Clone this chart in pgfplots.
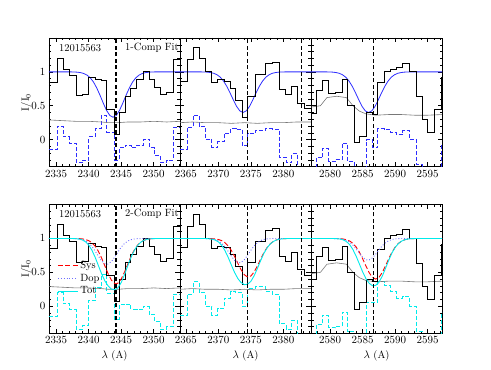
\documentclass[border=0pt]{standalone}
\usepackage{pgfplots}
\pgfplotsset{compat=1.18}
\definecolor{fitblue}{RGB}{45,45,255}
\definecolor{dopblue}{RGB}{110,110,255}
\definecolor{totcyan}{RGB}{0,235,235}
\definecolor{errgray}{RGB}{120,120,120}
\newcommand{\lab}{\fontsize{10.5}{12}\selectfont}

\pgfplotsset{
  panel/.style={
    scale only axis, width=131pt, height=128.7pt,
    anchor=south west,
    ymin=-0.4, ymax=1.5,
    ytick={0,0.5,1},
    minor ytick={-0.3,-0.2,-0.1,0.1,0.2,0.3,0.4,0.6,0.7,0.8,0.9,1.1,1.2,1.3,1.4},
    /pgf/number format/1000 sep={},
    tick label style={font=\lab},
    label style={font=\lab},
    ylabel style={yshift=-7pt},
    major tick length=4.5pt, minor tick length=2.5pt,
    every tick/.style={black, line width=0.5pt},
    axis line style={line width=0.7pt},
  },
  err/.style={color=errgray, line width=0.6pt, forget plot},
  residb/.style={const plot, color=fitblue, dash pattern=on 4pt off 2pt, line width=0.8pt, forget plot},
  residc/.style={const plot, color=totcyan, dash pattern=on 4pt off 2pt, line width=0.9pt, forget plot},
  fit/.style={color=fitblue, line width=0.8pt, forget plot},
  dat/.style={const plot, color=black, line width=1pt, forget plot},
  vline/.style={color=black, dash pattern=on 4pt off 2.5pt, line width=1.1pt, forget plot},
  sys/.style={color=red, dash pattern=on 5pt off 2.5pt, line width=0.9pt},
  dop/.style={color=dopblue, dotted, line width=0.9pt},
  tot/.style={color=totcyan, line width=0.9pt},
}

\begin{document}
\begin{tikzpicture}
\path[use as bounding box] (0pt,0pt) rectangle (491pt,370pt);

% ---------------- top row: 1-component fit ----------------
\begin{axis}[panel, at={(49pt,203.3pt)},
  xmin=2333.9, xmax=2354.05, xtick={2335,2340,2345,2350}, minor xtick={2334,...,2354},
  ylabel={I/I$_0$}]
\addplot[residb] coordinates {(2333.9,-0.15) (2335.2,0.20) (2336.1,0.04) (2337.05,-0.05) (2338.1,-0.34) (2339.1,-0.30) (2340.0,0.04) (2341.0,0.16) (2341.9,0.35) (2342.8,0.11) (2344.0,-0.30) (2344.7,-0.12) (2345.6,-0.08) (2346.5,-0.12) (2347.4,-0.08) (2348.4,0.01) (2349.3,-0.12) (2350.1,-0.23) (2351.0,-0.34) (2352.0,-0.30) (2353.0,0.18) (2354.05,0.18)};
\addplot[err] coordinates {(2333.9,0.29) (2336,0.28) (2338,0.27) (2340,0.27) (2342,0.26) (2343,0.25) (2344.5,0.25) (2346,0.26) (2348,0.26) (2350,0.27) (2352,0.26) (2354.05,0.27)};
\addplot[fit] coordinates {(2333.9,1) (2337.25,1) (2337.75,0.998) (2338.25,0.9955) (2338.75,0.989) (2339.25,0.976) (2339.75,0.952) (2340.25,0.912) (2340.75,0.849) (2341.25,0.761) (2341.75,0.654) (2342.25,0.538) (2342.75,0.432) (2343.25,0.357) (2343.75,0.330) (2344.25,0.357) (2344.75,0.432) (2345.25,0.538) (2345.75,0.654) (2346.25,0.761) (2346.75,0.849) (2347.25,0.912) (2347.75,0.952) (2348.25,0.976) (2348.75,0.989) (2349.25,0.9955) (2349.75,0.998) (2350.25,1) (2354.05,1)};
\addplot[dat] coordinates {(2333.9,0.85) (2335.2,1.20) (2336.1,1.04) (2337.05,0.95) (2338.1,0.65) (2339.1,0.66) (2340.0,0.92) (2341.0,0.88) (2341.9,0.87) (2342.8,0.45) (2344.0,0.07) (2344.7,0.40) (2345.6,0.64) (2346.5,0.76) (2347.4,0.88) (2348.4,1.00) (2349.3,0.88) (2350.1,0.77) (2351.0,0.66) (2352.0,0.70) (2353.0,1.18) (2354.05,1.18)};
\addplot[vline] coordinates {(2344.21,-0.4) (2344.21,1.5)};
\node[anchor=west, font=\lab] at (rel axis cs:0.05,0.925) {12015563};
\node[anchor=west, font=\lab] at (rel axis cs:0.555,0.925) {1-Comp Fit};
\end{axis}

\begin{axis}[panel, at={(180pt,203.3pt)},
  xmin=2364.1, xmax=2384.25, xtick={2365,2370,2375,2380}, minor xtick={2365,...,2384},
  yticklabels={}]
\addplot[residb] coordinates {(2364.1,-0.14) (2365.2,0.18) (2366.1,0.36) (2367.05,0.20) (2368.0,0.01) (2369.0,-0.12) (2369.9,-0.03) (2370.9,0.09) (2371.9,0.17) (2372.7,0.15) (2373.7,-0.09) (2374.5,0.09) (2375.7,0.14) (2377.3,0.16) (2378.3,0.15) (2379.4,-0.26) (2380.4,-0.34) (2381.3,-0.21) (2382.2,-0.46) (2383.2,-0.54) (2384.25,-0.54)};
\addplot[err] coordinates {(2364.1,0.25) (2366,0.26) (2368,0.25) (2370,0.25) (2372,0.24) (2374,0.25) (2376,0.24) (2378,0.25) (2380,0.25) (2382,0.26) (2384.25,0.26)};
\addplot[fit] coordinates {(2364.1,1) (2367.3,1) (2367.8,0.998) (2368.3,0.996) (2368.8,0.990) (2369.3,0.979) (2369.8,0.957) (2370.3,0.921) (2370.8,0.864) (2371.3,0.786) (2371.8,0.690) (2372.3,0.587) (2372.8,0.491) (2373.3,0.424) (2373.8,0.400) (2374.3,0.424) (2374.8,0.491) (2375.3,0.587) (2375.8,0.690) (2376.3,0.786) (2376.8,0.864) (2377.3,0.921) (2377.8,0.957) (2378.3,0.979) (2378.8,0.990) (2379.3,0.996) (2379.8,0.998) (2380.3,1) (2384.25,1)};
\addplot[dat] coordinates {(2364.1,0.86) (2365.2,1.18) (2366.1,1.36) (2367.05,1.20) (2368.0,1.00) (2369.0,0.85) (2369.9,0.88) (2370.9,0.86) (2371.9,0.76) (2372.7,0.58) (2373.7,0.32) (2374.5,0.64) (2375.7,0.96) (2377.3,1.12) (2378.3,1.14) (2379.4,0.74) (2380.4,0.66) (2381.3,0.79) (2382.2,0.54) (2383.2,0.46) (2384.25,0.46)};
\addplot[vline] coordinates {(2374.46,-0.4) (2374.46,1.5)};
\addplot[vline] coordinates {(2382.77,-0.4) (2382.77,1.5)};
\end{axis}

\begin{axis}[panel, at={(311pt,203.3pt)},
  xmin=2577.05, xmax=2597.2, xtick={2580,2585,2590,2595}, minor xtick={2578,...,2597},
  yticklabels={}]
\addplot[residb] coordinates {(2577.05,-0.61) (2577.84,-0.27) (2578.87,-0.13) (2579.79,-0.32) (2580.82,-0.29) (2581.84,-0.05) (2582.71,-0.32) (2583.74,-0.70) (2584.51,-0.42) (2585.53,0.0) (2586.46,-0.12) (2587.33,0.16) (2588.35,0.15) (2589.25,0.10) (2590.15,0.07) (2591.17,0.13) (2592.2,0.0) (2593.22,-0.37) (2594.15,-0.71) (2595.02,-0.90) (2596.04,-0.55) (2597.07,-0.09) (2597.2,-0.09)};
\addplot[err] coordinates {(2577.05,0.48) (2578.5,0.50) (2579.5,0.62) (2581.0,0.64) (2582.5,0.62) (2583.5,0.50) (2584.5,0.42) (2585.5,0.38) (2587.0,0.36) (2589,0.37) (2591,0.37) (2593,0.36) (2595,0.36) (2597.2,0.37)};
\addplot[fit] coordinates {(2577.05,1) (2579.4,1) (2579.9,0.998) (2580.4,0.996) (2580.9,0.990) (2581.4,0.979) (2581.9,0.957) (2582.4,0.921) (2582.9,0.864) (2583.4,0.786) (2583.9,0.690) (2584.4,0.587) (2584.9,0.491) (2585.4,0.424) (2585.9,0.400) (2586.4,0.424) (2586.9,0.491) (2587.4,0.587) (2587.9,0.690) (2588.4,0.786) (2588.9,0.864) (2589.4,0.921) (2589.9,0.957) (2590.4,0.979) (2590.9,0.990) (2591.4,0.996) (2591.9,0.998) (2592.4,1) (2597.2,1)};
\addplot[dat] coordinates {(2577.05,0.39) (2577.84,0.73) (2578.87,0.87) (2579.79,0.68) (2580.82,0.69) (2581.84,0.88) (2582.71,0.50) (2583.74,-0.05) (2584.51,0.05) (2585.53,0.40) (2586.46,0.37) (2587.33,0.84) (2588.35,1.00) (2589.25,1.04) (2590.15,1.06) (2591.17,1.13) (2592.2,1.00) (2593.22,0.63) (2594.15,0.29) (2595.02,0.10) (2596.04,0.45) (2597.07,0.91) (2597.2,0.91)};
\addplot[vline] coordinates {(2586.65,-0.4) (2586.65,1.5)};
\end{axis}

% ---------------- bottom row: 2-component fit ----------------
\begin{axis}[panel, at={(49pt,36.7pt)},
  xmin=2333.9, xmax=2354.05, xtick={2335,2340,2345,2350}, minor xtick={2334,...,2354},
  ylabel={I/I$_0$}, xlabel={$\lambda$ (A)},
  legend style={at={(rel axis cs:0.055,0.585)}, anchor=north west, draw=none, fill=none,
    font=\lab, row sep=0pt, inner sep=1pt},
  legend cell align=left,
  legend image code/.code={\draw[#1] (0pt,0pt) -- (20pt,0pt);}]
\addplot[residc] coordinates {(2333.9,-0.15) (2335.2,0.20) (2336.1,0.04) (2337.05,-0.05) (2338.1,-0.34) (2339.1,-0.29) (2340.0,0.09) (2341.0,0.27) (2341.9,0.47) (2342.8,0.19) (2344.0,-0.19) (2344.7,0.02) (2345.6,0.03) (2346.5,-0.05) (2347.4,-0.05) (2348.4,0.0) (2349.3,-0.12) (2350.1,-0.23) (2351.0,-0.34) (2352.0,-0.30) (2353.0,0.18) (2354.05,0.18)};
\addplot[err] coordinates {(2333.9,0.29) (2336,0.28) (2338,0.27) (2340,0.27) (2342,0.26) (2343,0.25) (2344.5,0.25) (2346,0.26) (2348,0.26) (2350,0.27) (2352,0.26) (2354.05,0.27)};
\addplot[dat] coordinates {(2333.9,0.85) (2335.2,1.20) (2336.1,1.04) (2337.05,0.95) (2338.1,0.65) (2339.1,0.66) (2340.0,0.92) (2341.0,0.88) (2341.9,0.87) (2342.8,0.45) (2344.0,0.07) (2344.7,0.40) (2345.6,0.64) (2346.5,0.76) (2347.4,0.88) (2348.4,1.00) (2349.3,0.88) (2350.1,0.77) (2351.0,0.66) (2352.0,0.70) (2353.0,1.18) (2354.05,1.18)};
\addplot[sys] coordinates {(2333.9,1) (2337.5,1.000) (2338.0,0.999) (2338.5,0.998) (2339.0,0.994) (2339.5,0.985) (2340.0,0.968) (2340.5,0.937) (2341.0,0.886) (2341.5,0.810) (2342.0,0.710) (2342.5,0.594) (2343.0,0.478) (2343.5,0.384) (2344.0,0.335) (2344.2,0.330) (2344.5,0.340) (2345.0,0.400) (2345.5,0.500) (2346.0,0.617) (2346.5,0.732) (2347.0,0.827) (2347.5,0.898) (2348.0,0.945) (2348.5,0.973) (2349.0,0.988) (2349.5,0.995) (2350.0,0.998) (2350.5,1.0) (2354.05,1)};
\addlegendentry{Sys}
\addplot[dop] coordinates {(2333.9,1) (2337.5,0.999) (2338.0,0.998) (2338.5,0.994) (2339.0,0.985) (2339.5,0.966) (2340.0,0.933) (2340.5,0.883) (2341.0,0.815) (2341.5,0.739) (2342.0,0.670) (2342.5,0.628) (2342.8,0.620) (2343.0,0.623) (2343.5,0.659) (2344.0,0.724) (2344.5,0.800) (2345.0,0.870) (2345.5,0.925) (2346.0,0.961) (2346.5,0.982) (2347.0,0.992) (2347.5,0.997) (2348.0,0.999) (2348.5,1.0) (2354.05,1)};
\addlegendentry{Dop}
\addplot[tot] coordinates {(2333.9,1) (2337.5,0.999) (2338.0,0.997) (2338.5,0.992) (2339.0,0.979) (2339.5,0.952) (2340.0,0.904) (2340.5,0.827) (2341.0,0.722) (2341.5,0.599) (2342.0,0.476) (2342.5,0.373) (2343.0,0.298) (2343.5,0.253) (2344.0,0.243) (2344.5,0.272) (2345.0,0.348) (2345.5,0.462) (2346.0,0.593) (2346.5,0.719) (2347.0,0.820) (2347.5,0.895) (2348.0,0.944) (2348.5,0.973) (2349.0,0.988) (2349.5,0.995) (2350.0,0.998) (2350.5,1.0) (2354.05,1)};
\addlegendentry{Tot}
\addplot[vline] coordinates {(2344.21,-0.4) (2344.21,1.5)};
\node[anchor=west, font=\lab] at (rel axis cs:0.05,0.925) {12015563};
\node[anchor=west, font=\lab] at (rel axis cs:0.555,0.925) {2-Comp Fit};
\end{axis}

\begin{axis}[panel, at={(180pt,36.7pt)},
  xmin=2364.1, xmax=2384.25, xtick={2365,2370,2375,2380}, minor xtick={2365,...,2384},
  yticklabels={}, xlabel={$\lambda$ (A)}]
\addplot[residc] coordinates {(2364.1,-0.14) (2365.2,0.18) (2366.1,0.36) (2367.05,0.20) (2368.0,0.00) (2369.0,-0.13) (2369.9,-0.03) (2370.9,0.12) (2371.9,0.22) (2372.7,0.20) (2373.7,0.0) (2374.5,0.26) (2375.7,0.29) (2377.3,0.22) (2378.3,0.17) (2379.4,-0.26) (2380.4,-0.34) (2381.3,-0.21) (2382.2,-0.46) (2383.2,-0.54) (2384.25,-0.54)};
\addplot[err] coordinates {(2364.1,0.25) (2366,0.26) (2368,0.25) (2370,0.25) (2372,0.24) (2374,0.25) (2376,0.24) (2378,0.25) (2380,0.25) (2382,0.26) (2384.25,0.26)};
\addplot[dat] coordinates {(2364.1,0.86) (2365.2,1.18) (2366.1,1.36) (2367.05,1.20) (2368.0,1.00) (2369.0,0.85) (2369.9,0.88) (2370.9,0.86) (2371.9,0.76) (2372.7,0.58) (2373.7,0.32) (2374.5,0.64) (2375.7,0.96) (2377.3,1.12) (2378.3,1.14) (2379.4,0.74) (2380.4,0.66) (2381.3,0.79) (2382.2,0.54) (2383.2,0.46) (2384.25,0.46)};
\addplot[sys, forget plot] coordinates {(2364.1,1) (2367.5,1.0) (2368.0,1.0) (2368.5,0.999) (2369.0,0.997) (2369.5,0.994) (2370.0,0.985) (2370.5,0.969) (2371.0,0.940) (2371.5,0.892) (2372.0,0.823) (2372.5,0.734) (2373.0,0.634) (2373.5,0.538) (2374.0,0.464) (2374.5,0.431) (2375.0,0.445) (2375.5,0.505) (2376.0,0.594) (2376.5,0.694) (2377.0,0.790) (2377.5,0.867) (2378.0,0.923) (2378.5,0.959) (2379.0,0.980) (2379.5,0.991) (2380.0,0.996) (2380.5,0.999) (2381.0,1.0) (2384.25,1)};
\addplot[dop, forget plot] coordinates {(2364.1,1) (2367.5,1.0) (2368.0,0.999) (2368.5,0.997) (2369.0,0.993) (2369.5,0.983) (2370.0,0.963) (2370.5,0.929) (2371.0,0.877) (2371.5,0.811) (2372.0,0.739) (2372.5,0.677) (2373.0,0.643) (2373.2,0.640) (2373.5,0.647) (2374.0,0.688) (2374.5,0.753) (2375.0,0.825) (2375.5,0.889) (2376.0,0.937) (2376.5,0.968) (2377.0,0.986) (2377.5,0.994) (2378.0,0.998) (2378.5,1.0) (2384.25,1)};
\addplot[tot, forget plot] coordinates {(2364.1,1) (2367.5,1.0) (2368.0,0.999) (2368.5,0.996) (2369.0,0.990) (2369.5,0.977) (2370.0,0.949) (2370.5,0.900) (2371.0,0.824) (2371.5,0.723) (2372.0,0.608) (2372.5,0.497) (2373.0,0.408) (2373.5,0.348) (2374.0,0.319) (2374.5,0.325) (2375.0,0.367) (2375.5,0.449) (2376.0,0.557) (2376.5,0.672) (2377.0,0.779) (2377.5,0.862) (2378.0,0.921) (2378.5,0.958) (2379.0,0.980) (2379.5,0.991) (2380.0,0.996) (2380.5,0.999) (2381.0,1.0) (2384.25,1)};
\addplot[vline] coordinates {(2374.46,-0.4) (2374.46,1.5)};
\addplot[vline] coordinates {(2382.77,-0.4) (2382.77,1.5)};
\end{axis}

\begin{axis}[panel, at={(311pt,36.7pt)},
  xmin=2577.05, xmax=2597.2, xtick={2580,2585,2590,2595}, minor xtick={2578,...,2597},
  yticklabels={}, xlabel={$\lambda$ (A)}]
\addplot[residc] coordinates {(2577.05,-0.61) (2577.84,-0.27) (2578.87,-0.13) (2579.79,-0.32) (2580.82,-0.30) (2581.84,-0.09) (2582.71,-0.38) (2583.74,-0.76) (2584.51,-0.45) (2585.53,0.06) (2586.46,0.06) (2587.33,0.36) (2588.35,0.30) (2589.25,0.22) (2590.15,0.12) (2591.17,0.14) (2592.2,0.0) (2593.22,-0.37) (2594.15,-0.71) (2595.02,-0.90) (2596.04,-0.55) (2597.07,-0.09) (2597.2,-0.09)};
\addplot[err] coordinates {(2577.05,0.48) (2578.5,0.50) (2579.5,0.62) (2581.0,0.64) (2582.5,0.62) (2583.5,0.50) (2584.5,0.42) (2585.5,0.38) (2587.0,0.36) (2589,0.37) (2591,0.37) (2593,0.36) (2595,0.36) (2597.2,0.37)};
\addplot[dat] coordinates {(2577.05,0.39) (2577.84,0.73) (2578.87,0.87) (2579.79,0.68) (2580.82,0.69) (2581.84,0.88) (2582.71,0.50) (2583.74,-0.05) (2584.51,0.05) (2585.53,0.40) (2586.46,0.37) (2587.33,0.84) (2588.35,1.00) (2589.25,1.04) (2590.15,1.06) (2591.17,1.13) (2592.2,1.00) (2593.22,0.63) (2594.15,0.29) (2595.02,0.10) (2596.04,0.45) (2597.07,0.91) (2597.2,0.91)};
\addplot[sys, forget plot] coordinates {(2577.05,1) (2580.0,1.0) (2580.5,1.0) (2581.0,0.999) (2581.5,0.997) (2582.0,0.992) (2582.5,0.982) (2583.0,0.962) (2583.5,0.928) (2584.0,0.873) (2584.5,0.797) (2585.0,0.699) (2585.5,0.593) (2586.0,0.495) (2586.5,0.425) (2587.0,0.400) (2587.5,0.425) (2588.0,0.495) (2588.5,0.593) (2589.0,0.699) (2589.5,0.797) (2590.0,0.873) (2590.5,0.928) (2591.0,0.962) (2591.5,0.982) (2592.0,0.992) (2592.5,0.997) (2593.0,0.999) (2593.5,1.0) (2597.2,1)};
\addplot[dop, forget plot] coordinates {(2577.05,1) (2580.0,1.0) (2580.5,0.999) (2581.0,0.998) (2581.5,0.995) (2582.0,0.987) (2582.5,0.972) (2583.0,0.944) (2583.5,0.901) (2584.0,0.844) (2584.5,0.780) (2585.0,0.723) (2585.5,0.686) (2585.8,0.680) (2586.0,0.683) (2586.5,0.713) (2587.0,0.768) (2587.5,0.832) (2588.0,0.891) (2588.5,0.937) (2589.0,0.967) (2589.5,0.985) (2590.0,0.994) (2590.5,0.998) (2591.0,1.0) (2597.2,1)};
\addplot[tot, forget plot] coordinates {(2577.05,1) (2580.0,1.0) (2580.5,0.999) (2581.0,0.997) (2581.5,0.992) (2582.0,0.979) (2582.5,0.954) (2583.0,0.908) (2583.5,0.836) (2584.0,0.737) (2584.5,0.622) (2585.0,0.505) (2585.5,0.407) (2586.0,0.338) (2586.5,0.303) (2587.0,0.307) (2587.5,0.354) (2588.0,0.441) (2588.5,0.556) (2589.0,0.676) (2589.5,0.785) (2590.0,0.868) (2590.5,0.926) (2591.0,0.961) (2591.5,0.982) (2592.0,0.992) (2592.5,0.997) (2593.0,0.999) (2593.5,1.0) (2597.2,1)};
\addplot[vline] coordinates {(2586.65,-0.4) (2586.65,1.5)};
\end{axis}
\end{tikzpicture}
\end{document}
